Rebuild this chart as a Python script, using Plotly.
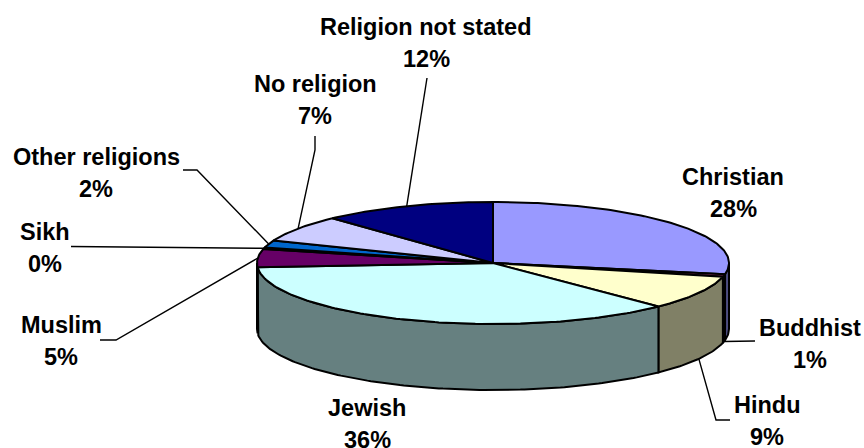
import numpy as np
import plotly.graph_objects as go

categories = ["Christian", "Buddhist", "Hindu", "Jewish", "Muslim", "Sikh",
              "Other religions", "No religion", "Religion not stated"]
shares = [27.9, 0.7, 9.0, 36.2, 4.8, 0.4, 1.9, 7.1, 11.9]
top_colors = ["#9999FF", "#993366", "#FFFFCC", "#CCFFFF", "#660066", "#FF8080",
              "#0066CC", "#CCCCFF", "#000080"]
wall_colors = ["#4D4D80", "#4D1A33", "#808066", "#668080", "#330033", "#804040",
               "#003366", "#666680", "#000040"]

# Page geometry of the tilted pie, in pixels
CX, CY, RX, RY, DEPTH = 493, 263, 236, 61, 66

# Label centre (x, first-line y) and leader path from the pie outward, in pixels
label_pos = {
    "Christian": (733, 177, None),
    "Buddhist": (810, 328, [(755, 341)]),
    "Hindu": (767, 405, [(716, 420), (730, 420)]),
    "Jewish": (367, 408, None),
    "Muslim": (61, 325, [(116, 340), (100, 340)]),
    "Sikh": (45, 232, [(71, 246.5)]),
    "Other religions": (96, 157, [(197, 170), (183, 170)]),
    "No religion": (315, 84, [(315, 150), (315, 136)]),
    "Religion not stated": (426, 27, [(424, 95), (427, 78)]),
}
rim_anchor = {"Buddhist": True, "Hindu": True}


def pt(theta_deg, drop=0):
    t = np.radians(theta_deg)
    return CX + RX * np.sin(t), CY - RY * np.cos(t) + drop


def arc(a, b, drop=0):
    n = max(2, int(abs(b - a)) + 2)
    return pt(np.linspace(a, b, n), drop)


total = sum(shares)
edges = np.concatenate([[0], np.cumsum(shares)]) / total * 360

fig = go.Figure()
LINE = dict(color="black", width=2)


def poly(xs, ys, fill):
    fig.add_trace(go.Scatter(x=list(xs), y=list(ys), mode="lines", fill="toself",
                             fillcolor=fill, line=LINE, hoverinfo="skip",
                             showlegend=False))


# side walls (front half of the rim only)
for i in range(len(shares)):
    a, b = max(edges[i], 90), min(edges[i + 1], 270)
    if b <= a:
        continue
    x1, y1 = arc(a, b)
    x2, y2 = arc(b, a, DEPTH)
    poly(np.r_[x1, x2, x1[0]], np.r_[y1, y2, y1[0]], wall_colors[i])

# top faces
for i in range(len(shares)):
    x1, y1 = arc(edges[i], edges[i + 1])
    poly(np.r_[CX, x1, CX], np.r_[CY, y1, CY], top_colors[i])

# leader lines
for i, name in enumerate(categories):
    path = label_pos[name][2]
    if path is None:
        continue
    mid = (edges[i] + edges[i + 1]) / 2
    ax, ay = pt(mid, DEPTH if rim_anchor.get(name) else 0)
    xs = [ax] + [p[0] for p in path]
    ys = [ay] + [p[1] for p in path]
    fig.add_trace(go.Scatter(x=xs, y=ys, mode="lines",
                             line=dict(color="black", width=1.4),
                             hoverinfo="skip", showlegend=False))

# labels
for i, name in enumerate(categories):
    lx, ly, _ = label_pos[name]
    pct = f"{round(shares[i] / total * 100)}%"
    for txt, yy in ((name, ly), (pct, ly + 31.5)):
        fig.add_annotation(x=lx, y=yy, text=f"<b>{txt}</b>", showarrow=False,
                           xanchor="center", yanchor="middle",
                           font=dict(family="Liberation Sans", size=23.5, color="black"))

fig.update_layout(
    width=864, height=448, margin=dict(l=0, r=0, t=0, b=0),
    paper_bgcolor="white", plot_bgcolor="white", showlegend=False,
    xaxis=dict(range=[0, 864], visible=False, fixedrange=True),
    yaxis=dict(range=[448, 0], visible=False, fixedrange=True),
)
fig.write_html("out.html", config={"displayModeBar": False},
               post_script="document.body.style.margin='0';document.body.style.overflow='hidden';")
